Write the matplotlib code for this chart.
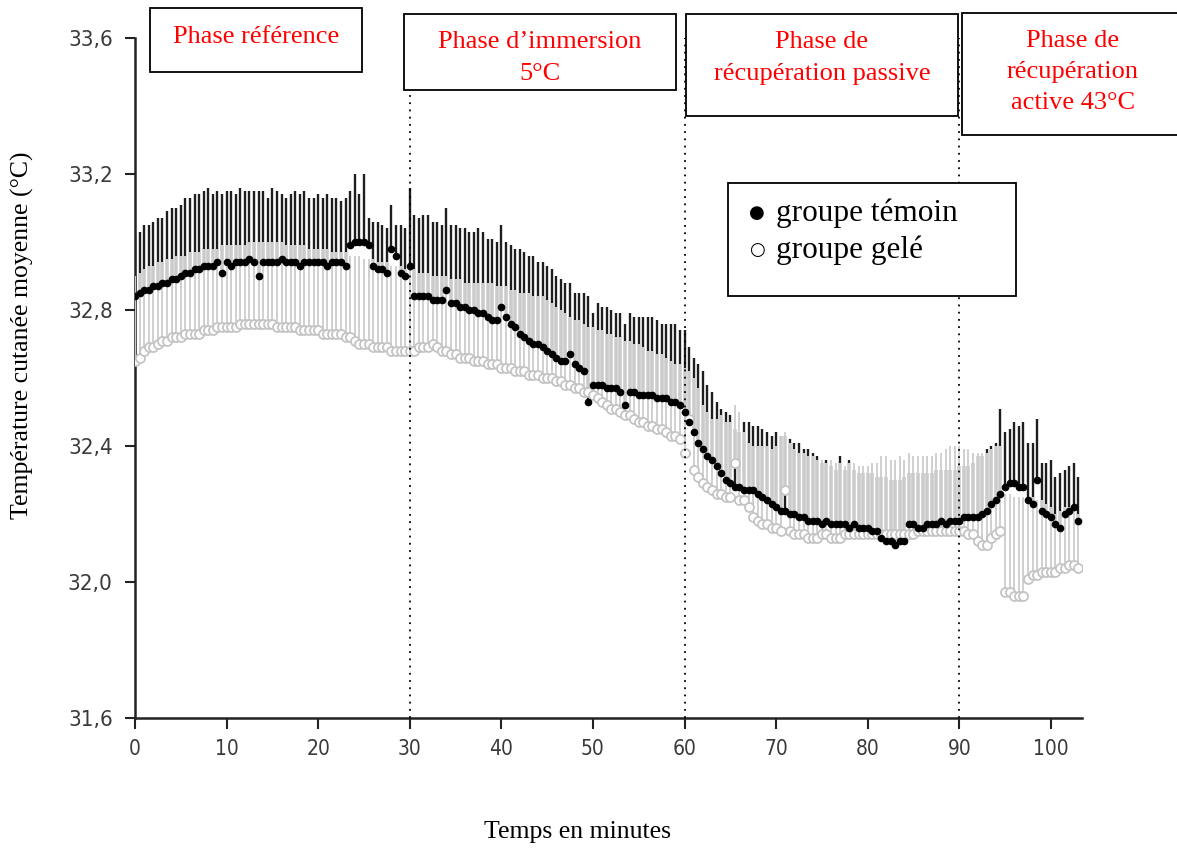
import numpy as np
import matplotlib.pyplot as plt
from matplotlib.patches import Rectangle

# temps (minutes), un point toutes les 30 s
temps = np.arange(0, 103.5, 0.5)

# groupe témoin : moyenne et moyenne + écart-type
temoin_moy = [
    32.84, 32.85, 32.86, 32.86, 32.87, 32.87, 32.88, 32.88, 32.89, 32.89, 32.90, 32.91, 32.91, 32.92, 32.92, 32.93, 32.93, 32.93, 32.94, 32.91,
    32.94, 32.93, 32.94, 32.94, 32.94, 32.95, 32.94, 32.90, 32.94, 32.94, 32.94, 32.94, 32.95, 32.94, 32.94, 32.94, 32.93, 32.94, 32.94, 32.94,
    32.94, 32.94, 32.93, 32.94, 32.94, 32.94, 32.93, 32.99, 33.00, 33.00, 33.00, 32.99, 32.93, 32.92, 32.92, 32.91, 32.98, 32.96, 32.91, 32.90,
    32.93, 32.84, 32.84, 32.84, 32.84, 32.83, 32.83, 32.83, 32.86, 32.82, 32.82, 32.81, 32.81, 32.80, 32.80, 32.79, 32.79, 32.78, 32.77, 32.77,
    32.81, 32.78, 32.76, 32.75, 32.73, 32.72, 32.71, 32.70, 32.70, 32.69, 32.68, 32.67, 32.66, 32.65, 32.65, 32.67, 32.64, 32.63, 32.62, 32.53,
    32.58, 32.58, 32.58, 32.57, 32.57, 32.57, 32.56, 32.52, 32.56, 32.56, 32.55, 32.55, 32.55, 32.55, 32.54, 32.54, 32.54, 32.53, 32.53, 32.52,
    32.50, 32.47, 32.44, 32.41, 32.39, 32.37, 32.36, 32.34, 32.32, 32.30, 32.29, 32.28, 32.28, 32.27, 32.27, 32.27, 32.26, 32.25, 32.24, 32.23,
    32.22, 32.21, 32.21, 32.20, 32.20, 32.19, 32.19, 32.18, 32.18, 32.18, 32.17, 32.18, 32.17, 32.17, 32.17, 32.17, 32.16, 32.17, 32.16, 32.16,
    32.16, 32.15, 32.15, 32.13, 32.12, 32.12, 32.11, 32.12, 32.12, 32.17, 32.17, 32.16, 32.16, 32.17, 32.17, 32.17, 32.18, 32.17, 32.18, 32.18,
    32.18, 32.19, 32.19, 32.19, 32.19, 32.20, 32.21, 32.23, 32.24, 32.26, 32.28, 32.29, 32.29, 32.28, 32.28, 32.24, 32.23, 32.30, 32.21, 32.20,
    32.19, 32.17, 32.16, 32.20, 32.21, 32.22, 32.18,
]
temoin_sup = [
    33.02, 33.03, 33.05, 33.05, 33.06, 33.07, 33.07, 33.09, 33.10, 33.10, 33.11, 33.13, 33.13, 33.14, 33.14, 33.15, 33.16, 33.14, 33.15, 33.14,
    33.15, 33.15, 33.14, 33.16, 33.15, 33.15, 33.15, 33.15, 33.15, 33.13, 33.16, 33.15, 33.14, 33.13, 33.14, 33.15, 33.14, 33.15, 33.13, 33.13,
    33.14, 33.13, 33.14, 33.13, 33.13, 33.12, 33.13, 33.15, 33.20, 33.14, 33.20, 33.07, 33.06, 33.06, 33.05, 33.04, 33.11, 33.05, 33.05, 33.04,
    33.16, 33.08, 33.07, 33.08, 33.08, 33.06, 33.06, 33.05, 33.10, 33.05, 33.05, 33.04, 33.04, 33.03, 33.03, 33.04, 33.03, 33.01, 33.01, 33.00,
    33.05, 33.00, 32.99, 32.98, 32.98, 32.97, 32.96, 32.96, 32.94, 32.94, 32.93, 32.92, 32.90, 32.89, 32.88, 32.88, 32.85, 32.85, 32.85, 32.84,
    32.79, 32.82, 32.81, 32.81, 32.80, 32.79, 32.79, 32.76, 32.79, 32.78, 32.78, 32.78, 32.78, 32.78, 32.77, 32.76, 32.76, 32.76, 32.76, 32.74,
    32.74, 32.69, 32.66, 32.64, 32.62, 32.58, 32.56, 32.53, 32.51, 32.50, 32.49, 32.45, 32.44, 32.47, 32.47, 32.46, 32.46, 32.45, 32.44, 32.43,
    32.44, 32.43, 32.43, 32.42, 32.41, 32.41, 32.39, 32.39, 32.38, 32.37, 32.35, 32.36, 32.34, 32.33, 32.37, 32.33, 32.36, 32.33, 32.32, 32.32,
    32.32, 32.32, 32.31, 32.31, 32.31, 32.30, 32.30, 32.30, 32.31, 32.32, 32.32, 32.32, 32.32, 32.32, 32.32, 32.33, 32.33, 32.33, 32.33, 32.33,
    32.34, 32.34, 32.34, 32.35, 32.37, 32.37, 32.39, 32.40, 32.41, 32.51, 32.44, 32.45, 32.47, 32.46, 32.47, 32.41, 32.41, 32.48, 32.35, 32.35,
    32.36, 32.31, 32.32, 32.33, 32.34, 32.35, 32.31,
]

# groupe gelé : moyenne et moyenne + écart-type
gele_moy = [
    32.65, 32.66, 32.68, 32.69, 32.69, 32.70, 32.71, 32.71, 32.72, 32.72, 32.72, 32.73, 32.73, 32.73, 32.73, 32.74, 32.74, 32.74, 32.75, 32.75,
    32.75, 32.75, 32.75, 32.76, 32.76, 32.76, 32.76, 32.76, 32.76, 32.76, 32.76, 32.75, 32.75, 32.75, 32.75, 32.75, 32.74, 32.74, 32.74, 32.74,
    32.74, 32.73, 32.73, 32.73, 32.73, 32.73, 32.72, 32.72, 32.71, 32.70, 32.70, 32.70, 32.69, 32.69, 32.69, 32.69, 32.68, 32.68, 32.68, 32.68,
    32.68, 32.68, 32.69, 32.69, 32.69, 32.70, 32.69, 32.68, 32.68, 32.67, 32.67, 32.66, 32.66, 32.66, 32.65, 32.65, 32.65, 32.64, 32.64, 32.64,
    32.63, 32.63, 32.63, 32.62, 32.62, 32.62, 32.61, 32.61, 32.61, 32.60, 32.60, 32.60, 32.59, 32.59, 32.58, 32.58, 32.57, 32.57, 32.56, 32.56,
    32.55, 32.54, 32.53, 32.52, 32.51, 32.51, 32.50, 32.49, 32.49, 32.48, 32.47, 32.47, 32.46, 32.46, 32.45, 32.45, 32.44, 32.43, 32.43, 32.42,
    32.38, 32.48, 32.33, 32.31, 32.29, 32.28, 32.27, 32.26, 32.26, 32.25, 32.25, 32.35, 32.24, 32.24, 32.22, 32.19, 32.18, 32.17, 32.17, 32.16,
    32.16, 32.15, 32.27, 32.15, 32.14, 32.14, 32.14, 32.13, 32.13, 32.13, 32.14, 32.14, 32.13, 32.13, 32.13, 32.14, 32.14, 32.14, 32.14, 32.14,
    32.14, 32.14, 32.14, 32.14, 32.14, 32.14, 32.14, 32.14, 32.14, 32.14, 32.14, 32.15, 32.15, 32.15, 32.15, 32.15, 32.15, 32.15, 32.15, 32.15,
    32.15, 32.15, 32.14, 32.14, 32.12, 32.11, 32.11, 32.13, 32.14, 32.15, 31.97, 31.97, 31.96, 31.96, 31.96, 32.01, 32.02, 32.02, 32.03, 32.03,
    32.03, 32.03, 32.04, 32.04, 32.05, 32.05, 32.04,
]
gele_sup = [
    32.90, 32.91, 32.92, 32.93, 32.93, 32.94, 32.94, 32.95, 32.95, 32.96, 32.96, 32.96, 32.97, 32.97, 32.97, 32.98, 32.98, 32.98, 32.98, 32.99,
    32.99, 32.99, 32.99, 32.99, 32.99, 33.00, 33.00, 33.00, 33.00, 33.00, 33.00, 33.00, 33.00, 32.99, 32.99, 32.99, 32.99, 32.99, 32.98, 32.98,
    32.98, 32.98, 32.98, 32.97, 32.97, 32.97, 32.97, 32.96, 32.96, 32.96, 32.95, 32.95, 32.95, 32.94, 32.94, 32.94, 32.93, 32.93, 32.93, 32.92,
    32.92, 32.92, 32.91, 32.91, 32.91, 32.90, 32.90, 32.90, 32.90, 32.89, 32.89, 32.89, 32.88, 32.88, 32.88, 32.88, 32.88, 32.88, 32.88, 32.87,
    32.87, 32.87, 32.86, 32.86, 32.85, 32.85, 32.85, 32.84, 32.84, 32.84, 32.83, 32.82, 32.81, 32.80, 32.79, 32.78, 32.77, 32.77, 32.76, 32.75,
    32.75, 32.74, 32.74, 32.73, 32.73, 32.72, 32.72, 32.71, 32.71, 32.70, 32.70, 32.69, 32.68, 32.68, 32.67, 32.67, 32.66, 32.65, 32.64, 32.64,
    32.63, 32.62, 32.60, 32.57, 32.52, 32.50, 32.48, 32.48, 32.49, 32.47, 32.47, 32.52, 32.50, 32.44, 32.41, 32.40, 32.40, 32.40, 32.40, 32.39,
    32.40, 32.43, 32.44, 32.41, 32.39, 32.38, 32.38, 32.37, 32.37, 32.36, 32.36, 32.35, 32.36, 32.35, 32.35, 32.34, 32.35, 32.35, 32.34, 32.34,
    32.34, 32.35, 32.35, 32.37, 32.37, 32.36, 32.36, 32.37, 32.36, 32.38, 32.37, 32.37, 32.37, 32.37, 32.37, 32.38, 32.38, 32.39, 32.40, 32.40,
    32.40, 32.39, 32.39, 32.38, 32.38, 32.38, 32.38, 32.39, 32.40, 32.40, 32.26, 32.26, 32.25, 32.25, 32.25, 32.25, 32.25, 32.24, 32.24, 32.23,
    32.22, 32.20, 32.21, 32.22, 32.22, 32.21, 32.20,
]

phases = [30, 60, 90]
yticks = [31.6, 32.0, 32.4, 32.8, 33.2, 33.6]
xticks = [0, 10, 20, 30, 40, 50, 60, 70, 80, 90, 100]

temoin_moy = np.array(temoin_moy)
gele_moy = np.array(gele_moy)

W, H = 1177, 851
fig = plt.figure(figsize=(W / 100, H / 100), dpi=100)
ax = fig.add_axes([135 / W, 1 - 718 / H, (1082 - 135) / W, (718 - 38) / H])

# barres d'erreur (vers le haut uniquement)
ax.vlines(temps, temoin_moy, temoin_sup, color='#1e1e1e', lw=1.7, zorder=2)
ax.vlines(temps, gele_moy, gele_sup, color='#d0d0d0', lw=1.4, zorder=3)
ax.plot(temps, gele_moy, 'o', ms=6.5, mfc='white', mec='#c4c4c4', mew=1.3, zorder=4)
ax.plot(temps, temoin_moy, 'o', ms=4.5, color='black', zorder=5)

for p in phases:
    ax.axvline(p, color='black', lw=1.3, linestyle=(0, (1, 3)), zorder=6)

ax.set_xlim(0, 103.4)
ax.set_ylim(31.6, 33.6)
ax.set_yticks(yticks)
ax.set_yticklabels([f'{v:.1f}'.replace('.', ',') for v in yticks])
ax.set_xticks(xticks)
for s in ['top', 'right']:
    ax.spines[s].set_visible(False)
for s in ['left', 'bottom']:
    ax.spines[s].set_color('#222222')
    ax.spines[s].set_linewidth(1.8)
ax.tick_params(axis='y', length=7, width=1.5, color='#222222', pad=9,
               labelsize=16, labelcolor='#3a3a3a')
ax.tick_params(axis='x', length=8, width=1.5, color='#222222', pad=7,
               labelsize=15, labelcolor='#3a3a3a')
for lab in ax.get_xticklabels() + ax.get_yticklabels():
    lab.set_fontfamily('DejaVu Sans')
    lab.set_fontstretch('condensed')

serif = ['Liberation Serif', 'DejaVu Serif']
fig.text(22 / W, 1 - 335 / H, 'Température cutanée moyenne (°C)', rotation=90,
         ha='center', va='center', fontsize=18.5, family=serif)
fig.text(577 / W, 1 - 832 / H, 'Temps en minutes', ha='center', va='center',
         fontsize=18.5, family=serif)


def boite(x0, y0, x1, y1):
    fig.patches.append(Rectangle((x0 / W, 1 - y1 / H), (x1 - x0) / W, (y1 - y0) / H,
                                 transform=fig.transFigure, facecolor='white',
                                 edgecolor='black', lw=1.3, zorder=10))


boites = [
    (150, 8, 362, 72, 256, 37, 'Phase référence'),
    (404, 14, 676, 90, 540, 58, 'Phase d\u2019immersion\n5°C'),
    (686, 14, 958, 116, 822, 58, 'Phase de\nrécupération passive'),
    (962, 13, 1185, 135, 1073, 72, 'Phase de\nrécupération\nactive 43°C'),
]
for x0, y0, x1, y1, xt, yt, txt in boites:
    boite(x0, y0, x1, y1)
    fig.text(xt / W, 1 - yt / H, txt, ha='center', va='center', color='red',
             fontsize=19, family=serif, linespacing=1.55, zorder=11)

# légende
boite(728, 183, 1016, 296)
fig.text(757 / W, 1 - 213 / H, '\u25cf', ha='center', va='center', fontsize=13,
         family=['DejaVu Sans'], zorder=11)
fig.text(757 / W, 1 - 250 / H, '\u25cb', ha='center', va='center', fontsize=13,
         family=['DejaVu Sans'], zorder=11)
fig.text(776 / W, 1 - 213 / H, 'groupe témoin', ha='left', va='center',
         fontsize=22.5, family=serif, zorder=11)
fig.text(776 / W, 1 - 250 / H, 'groupe gelé', ha='left', va='center',
         fontsize=22.5, family=serif, zorder=11)

fig.savefig('out.png', dpi=100)
